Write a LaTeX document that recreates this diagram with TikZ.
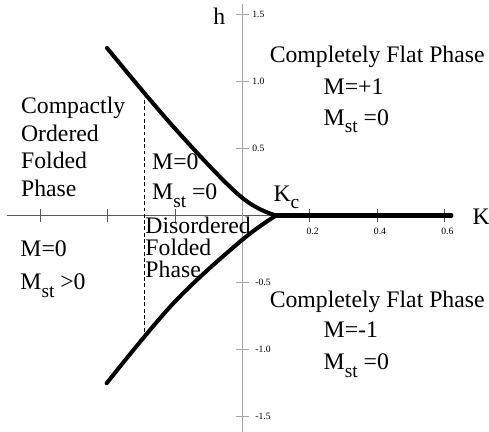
\documentclass[tikz,border=0pt]{standalone}
\usepackage{fontspec}
\setmainfont{Liberation Serif}
\newcommand{\Mst}{M\raisebox{-4.5pt}{\fontsize{11}{11}\selectfont st}}
\newcommand{\Kcrit}{K\raisebox{-4pt}{\fontsize{11}{11}\selectfont c}}

\begin{document}
\begin{tikzpicture}[
		x=6.74cm, y=2.68cm,
		phase/.style={font=\fontsize{13.5}{16}\selectfont, anchor=base west, inner sep=0pt},
		ticklabel/.style={font=\fontsize{5.5}{6}\selectfont, inner sep=0pt},
		border/.style={line width=2.3pt, line cap=round},
		kaxis/.style={black!65, line width=0.6pt},
		haxis/.style={gray!70, line width=0.6pt}
		]
		\useasboundingbox (-0.7196,-1.6157) rectangle (0.7315,1.6082);
		
		% ==========================================
		% Axes and ticks
		% ==========================================
		\draw[kaxis] (-0.70,0) -- (0.62,0);
		\draw[haxis] (0,-1.6157) -- (0,1.575);
		
		\foreach \k in {-0.6,-0.4,-0.2,0.2,0.4,0.6}
			\draw[kaxis] (\k,-0.05) -- (\k,0.05);
		\foreach \h in {-1.5,-1.0,-0.5,0.5,1.0,1.5}
			\draw[haxis] (-0.018,\h) -- (0.018,\h);
		
		\foreach \k [count=\i] in {0.2,0.4,0.6}
			\node[ticklabel] (klab\i) at (\k+0.008,-0.116) {\k};
		\foreach \h [count=\i] in {1.5,1.0,0.5}
			\node[ticklabel, anchor=west] (hlab\i) at (0.028,\h) {\h};
		\foreach \h [count=\i] in {-0.5,-1.0,-1.5}
			\node[ticklabel, anchor=west] (hneg\i) at (0.037,\h) {\h};
		
		\node[phase] (hname) at (-0.0875,1.422) {h};
		\node[phase] (kname) at (0.682,-0.071) {K};
		
		% ==========================================
		% Phase boundaries
		% ==========================================
		\coordinate (Kc) at (0.1,0);
		\coordinate (Kend) at (0.62,0);
		\coordinate (utop) at (-0.402,1.250);
		\coordinate (lbot) at (-0.403,-1.252);
		
		\draw[border] (Kc) -- (Kend);
		\draw[border] plot[smooth, tension=0.6] coordinates
		{(utop) (-0.2053,0.6627) (-0.0074,0.1455) (Kc)};
		\draw[border] plot[smooth, tension=0.6] coordinates
		{(lbot) (-0.205,-0.655) (-0.0074,-0.1955) (Kc)};
		
		% dashed line between the folded phases
		\coordinate (dtop) at (-0.292,0.862);
		\coordinate (dbot) at (-0.292,-0.89);
		\draw[line width=0.6pt, dash pattern=on 2.2pt off 1.4pt] (dtop) -- (dbot);
		
		\node[phase] (kc) at (0.091,0.101) {\Kcrit};
		
		% ==========================================
		% Phase labels
		% ==========================================
		\node[phase] (co1) at (-0.658,0.763) {Compactly};
		\node[phase] (co2) at (-0.658,0.551) {Ordered};
		\node[phase] (co3) at (-0.658,0.352) {Folded};
		\node[phase] (co4) at (-0.658,0.140) {Phase};
		
		\node[phase] (mid1) at (-0.269,0.340) {M=0};
		\node[phase] (mid2) at (-0.269,0.116) {\Mst\ =0};
		
		\node[phase] (dis1) at (-0.289,-0.131) {Disordered};
		\node[phase] (dis2) at (-0.289,-0.295) {Folded};
		\node[phase] (dis3) at (-0.289,-0.461) {Phase};
		
		\node[phase] (left1) at (-0.660,-0.307) {M=0};
		\node[phase] (left2) at (-0.660,-0.556) {\Mst\ >0};
		
		\node[phase] (up1) at (0.080,1.140) {Completely Flat Phase};
		\node[phase] (up2) at (0.240,0.904) {M=+1};
		\node[phase] (up3) at (0.240,0.675) {\Mst\ =0};
		
		\node[phase] (lo1) at (0.080,-0.685) {Completely Flat Phase};
		\node[phase] (lo2) at (0.240,-0.909) {M=-1};
		\node[phase] (lo3) at (0.240,-1.153) {\Mst\ =0};
		
	\end{tikzpicture}
\end{document}
